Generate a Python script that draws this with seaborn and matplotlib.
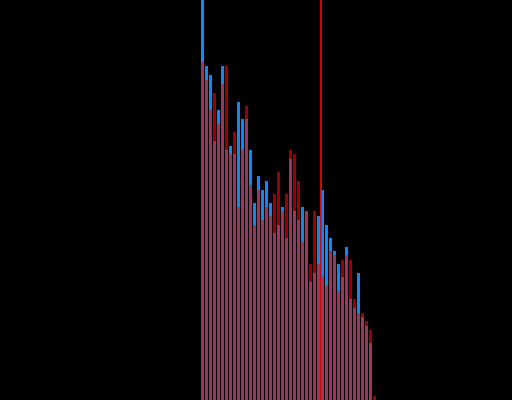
import matplotlib
matplotlib.use('Agg')
import matplotlib.pyplot as plt
import seaborn as sns

# bin index for each bar, two overlapping histograms
bins = list(range(44))
blue_counts = [410, 334, 325, 259, 290, 334, 250, 254, 246, 298,
               281, 281, 250, 197, 224, 210, 219, 197, 167, 175,
               193, 162, 241, 189, 180, 193, 189, 118, 127, 184,
               210, 175, 162, 149, 136, 123, 153, 101, 92, 127,
               83, 74, 57, 0]
red_counts = [338, 320, 290, 307, 276, 316, 334, 246, 268, 193,
              250, 294, 215, 175, 210, 180, 193, 184, 206, 228,
              189, 206, 250, 246, 219, 158, 189, 136, 189, 136,
              123, 114, 149, 145, 109, 140, 145, 140, 101, 87,
              87, 79, 70, 4]
marker_bin = 29.5  # vertical reference line

sns.set_style('dark')
figure = plt.figure(figsize=(5.12, 4.0), dpi=100, facecolor='black')
axes = figure.add_axes([0, 0, 1, 1])
axes.set_facecolor('black')

# blue first, opaque; red on top with alpha so the overlap turns mauve
sns.barplot(x=bins, y=blue_counts, color='#0a88ff', saturation=1,
            width=0.75, linewidth=0, ax=axes)
sns.barplot(x=bins, y=red_counts, color='#ff0000', saturation=1,
            width=0.75, linewidth=0, alpha=0.62, ax=axes)

axes.axvline(marker_bin, color='#ff1010', linewidth=1.1)

axes.set_xlim(-50.625, 77.375)
axes.set_ylim(0, 400)
axes.set_axis_off()

figure.savefig('out.png', dpi=100, facecolor='black')
